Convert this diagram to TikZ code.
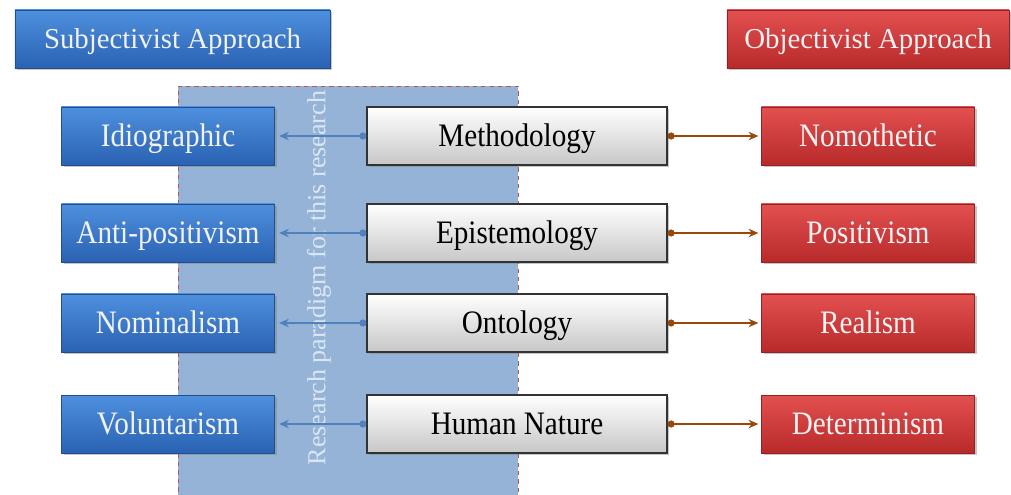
\documentclass[tikz,border=0pt]{standalone}
\usepackage{fontspec}
\setmainfont{Liberation Serif}
\newfontfamily\rowfont[FakeStretch=0.89]{Liberation Serif}
\usetikzlibrary{arrows.meta,shadows}
\definecolor{subjtop}{HTML}{4E90DE}
\definecolor{subjbot}{HTML}{2A62B2}
\definecolor{objtop}{HTML}{E35050}
\definecolor{objbot}{HTML}{B82A2A}
\definecolor{paraback}{HTML}{95B3D7}
\definecolor{paratext}{HTML}{DCE6F2}
\definecolor{paraedge}{HTML}{C0504D}
\definecolor{linkblue}{HTML}{4F81BD}
\definecolor{linkbrown}{HTML}{984807}

\begin{document}
\begin{tikzpicture}[x=0.025cm,y=-0.025cm,
  every node/.style={inner sep=0pt},
  headtext/.style={font=\fontsize{20.5}{24}\selectfont,text height=14pt,text depth=0pt},
  rowtext/.style={font=\rowfont\fontsize{23.3}{28}\selectfont,text height=15.4pt,text depth=0pt},
  boxshadow/.style={drop shadow={shadow xshift=1.5pt,shadow yshift=-1.5pt,opacity=.45}},
  subjbox/.style={boxshadow,rowtext,draw=subjbot!80!black,thin,top color=subjtop,bottom color=subjbot,
    text=white!95!black,minimum width=5.325cm,minimum height=1.45cm},
  objbox/.style={boxshadow,rowtext,draw=objbot!80!black,thin,top color=objtop,bottom color=objbot,
    text=white!95!black,minimum width=5.325cm,minimum height=1.45cm},
  dimbox/.style={boxshadow,rowtext,draw=black!80,thick,top color=white,bottom color=black!22,
    text=black,minimum width=7.5cm,minimum height=1.45cm},
  tosubj/.style={draw=linkblue,line width=1.4pt,{Circle[length=5pt]}-{Stealth[length=7pt,width=6pt]}},
  toobj/.style={draw=linkbrown,line width=1.4pt,{Circle[length=5pt]}-{Stealth[length=7pt,width=6pt]}}]
  \useasboundingbox (0,0) rectangle (1011,494);
  % 研究范式区域
  \fill[paraback] (178,86) rectangle (518,500);
  \draw[paraedge,dashed,thin] (178,500) -- (178,86) -- (518,86) -- (518,500);
  \node[rotate=90,text=paratext,font=\fontsize{18.5}{22}\selectfont] (para) at (319,278) {Research paradigm for this research};
  % 两种取向
  \node[subjbox,headtext,minimum width=7.875cm] (subj) at (172.5,39) {Subjectivist Approach};
  \node[objbox,headtext,minimum width=7.05cm] (obj) at (868,39) {Objectivist Approach};
  % 四个维度
  \node[dimbox] (meth)  at (517,136) {Methodology};
  \node[dimbox] (epis)  at (517,233) {Epistemology};
  \node[dimbox] (onto)  at (517,323) {Ontology};
  \node[dimbox] (human) at (517,424) {Human Nature};
  % 主观一侧
  \node[subjbox] (idio) at (168,136) {Idiographic};
  \node[subjbox] (anti) at (168,233) {Anti-positivism};
  \node[subjbox] (nomi) at (168,323) {Nominalism};
  \node[subjbox] (volu) at (168,424) {Voluntarism};
  % 客观一侧
  \node[objbox] (nomo) at (868,136) {Nomothetic};
  \node[objbox] (posi) at (868,233) {Positivism};
  \node[objbox] (real) at (868,323) {Realism};
  \node[objbox] (dete) at (868,424) {Determinism};
  % 连线
  \draw[tosubj] (meth.west)  -- ([xshift=3pt]idio.east);
  \draw[tosubj] (epis.west)  -- ([xshift=3pt]anti.east);
  \draw[tosubj] (onto.west)  -- ([xshift=3pt]nomi.east);
  \draw[tosubj] (human.west) -- ([xshift=3pt]volu.east);
  \draw[toobj] (meth.east)  -- ([xshift=-2pt]nomo.west);
  \draw[toobj] (epis.east)  -- ([xshift=-2pt]posi.west);
  \draw[toobj] (onto.east)  -- ([xshift=-2pt]real.west);
  \draw[toobj] (human.east) -- ([xshift=-2pt]dete.west);
\end{tikzpicture}
\end{document}
